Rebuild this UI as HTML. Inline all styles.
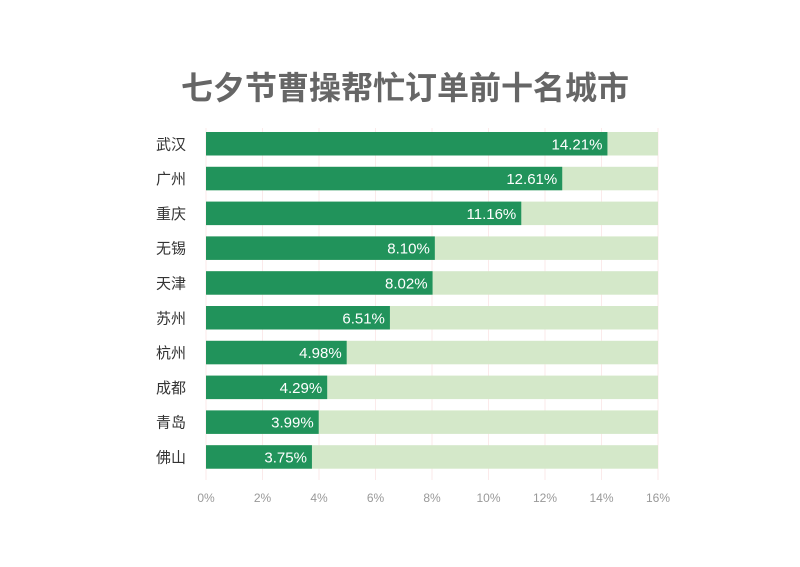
<!DOCTYPE html>
<html><head><meta charset="utf-8"><style>
body{margin:0;background:#fff;width:800px;height:562px;overflow:hidden}
text{font-family:"Liberation Sans","Noto Sans CJK SC",sans-serif}
</style></head><body>
<svg id="chart" width="800" height="562">
<text x="405" y="99" text-anchor="middle" font-size="32" font-weight="bold" fill="#666">七夕节曹操帮忙订单前十名城市</text>
<g id="grid"></g><g id="bars"></g><g id="axis"></g>
</svg>
<script>
const categories=["武汉","广州","重庆","无锡","天津","苏州","杭州","成都","青岛","佛山"];
const values=[14.21,12.61,11.16,8.10,8.02,6.51,4.98,4.29,3.99,3.75];
const valueLabels=["14.21%","12.61%","11.16%","8.10%","8.02%","6.51%","4.98%","4.29%","3.99%","3.75%"];
const ticks=[0,2,4,6,8,10,12,14,16];
const tickLabels=["0%","2%","4%","6%","8%","10%","12%","14%","16%"];
const NS="http://www.w3.org/2000/svg";
const x0=206,x1=658,maxV=16,topY=132,pitch=34.8,bh=23.5;
const xs=v=>x0+(x1-x0)*v/maxV;
const ys=i=>topY+i*pitch;
function mk(t,a,p){const e=document.createElementNS(NS,t);for(const k in a)e.setAttribute(k,a[k]);p.appendChild(e);return e;}
const grid=document.getElementById('grid'),bars=document.getElementById('bars'),axis=document.getElementById('axis');
ticks.forEach((t,i)=>{
 const l=mk('line',{x1:xs(t),x2:xs(t),y1:128,y2:480,stroke:'#fbeaea','stroke-width':1},grid);
 
 
 const tx=mk('text',{x:xs(t),y:502,'text-anchor':'middle','font-size':12,fill:'#999'},axis);
 tx.textContent=tickLabels[i];
 
 
});
categories.forEach((c,i)=>{
 const y=ys(i);
 const bg=mk('rect',{x:x0,y:y,width:x1-x0,height:bh,fill:'#d4e8c9'},bars);
 
 
 const b=mk('rect',{x:x0,y:y,width:xs(values[i])-x0,height:bh,fill:'#21935b'},bars);
 
 
 const v=mk('text',{x:xs(values[i])-5,y:y+bh/2+5.5,'text-anchor':'end','font-size':15,fill:'#fff'},bars);
 v.textContent=valueLabels[i];
 
 
 const cl=mk('text',{x:186,y:y+bh/2+5.5,'text-anchor':'end','font-size':15,fill:'#333'},axis);
 cl.textContent=c;
 
 
});
</script>
</body></html>
